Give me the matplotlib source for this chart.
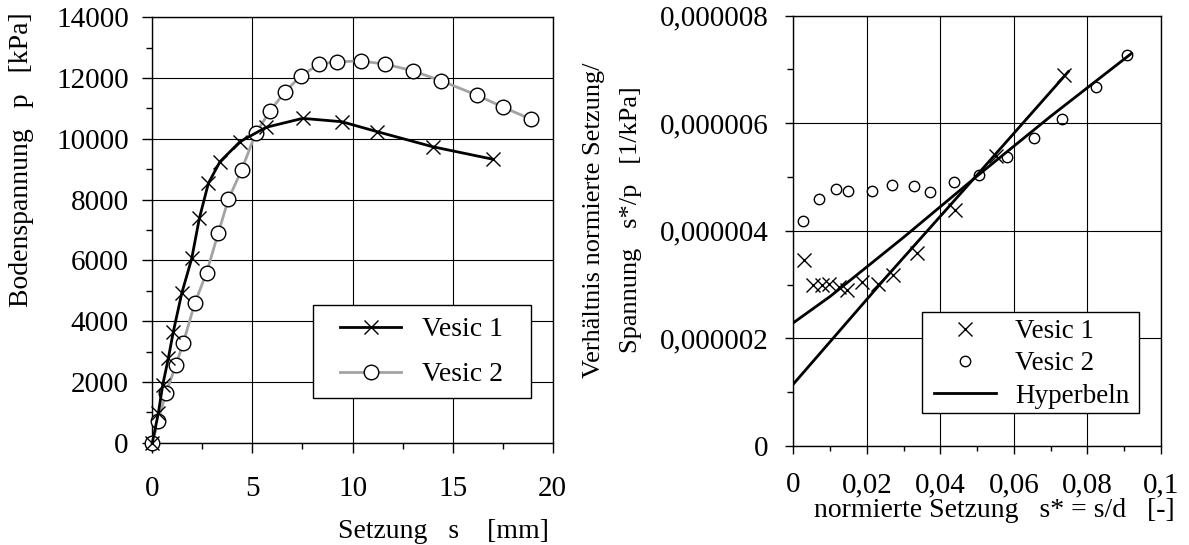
import matplotlib
matplotlib.use("Agg")
import matplotlib.pyplot as plt
from matplotlib.ticker import MultipleLocator, FuncFormatter
from matplotlib.patches import Rectangle

plt.rcParams['font.family'] = ['Liberation Serif', 'DejaVu Serif']
FT = 21      # tick labels
FL = 20      # axis labels
FG = 20      # legend

# ---- left chart data: soil pressure p [kPa] vs settlement s [mm]
v1_s = [0, 0.3, 0.52, 0.8, 1.05, 1.47, 1.97, 2.35, 2.8, 3.38, 4.38, 5.68, 7.51, 9.46, 11.24, 14.0, 17.04]
v1_p = [0, 965, 1898, 2775, 3653, 4915, 6066, 7383, 8535, 9248, 9906, 10378, 10674, 10564, 10235, 9741, 9325]
v2_s = [0, 0.3, 0.68, 1.18, 1.55, 2.13, 2.71, 3.30, 3.80, 4.46, 5.16, 5.88, 6.63, 7.41, 8.34, 9.24,
        10.41, 11.62, 13.0, 14.42, 16.2, 17.54, 18.9]
v2_p = [0, 724, 1646, 2556, 3291, 4607, 5595, 6911, 8008, 8974, 10180, 10915, 11551, 12067, 12462, 12539,
        12561, 12462, 12243, 11913, 11442, 11036, 10652]

# ---- right chart data: s*/p [1/kPa] vs s* [-]
r1_x = [0.0029, 0.0054, 0.0077, 0.0098, 0.0125, 0.0145, 0.0186, 0.0231, 0.0272, 0.0336, 0.0440, 0.0552, 0.0737]
r1_y = [3.46e-6, 2.99e-6, 2.99e-6, 3.01e-6, 2.95e-6, 2.90e-6, 3.05e-6, 3.02e-6, 3.18e-6, 3.59e-6, 4.39e-6, 5.40e-6, 6.89e-6]
r2_x = [0.0027, 0.0071, 0.0115, 0.0150, 0.0215, 0.0268, 0.0328, 0.0372, 0.0437, 0.0506, 0.0580, 0.0655,
        0.0730, 0.0823, 0.0907]
r2_y = [4.18e-6, 4.59e-6, 4.77e-6, 4.74e-6, 4.74e-6, 4.86e-6, 4.83e-6, 4.72e-6, 4.90e-6, 5.04e-6, 5.37e-6,
        5.72e-6, 6.08e-6, 6.68e-6, 7.27e-6]
h1_x = [0, 0.025, 0.05, 0.0748]
h1_y = [1.15e-6, 3.12e-6, 5.04e-6, 6.96e-6]
h2_x = [0, 0.01, 0.02, 0.03, 0.04, 0.05, 0.07, 0.092]
h2_y = [2.29e-6, 2.78e-6, 3.33e-6, 3.88e-6, 4.45e-6, 5.02e-6, 6.13e-6, 7.30e-6]

W, H = 1189, 545
fig = plt.figure(figsize=(W / 100, H / 100), dpi=100)

def px_axes(x0, y0, x1, y1):
    return fig.add_axes([x0 / W, 1 - y1 / H, (x1 - x0) / W, (y1 - y0) / H])

def legend_box(ax, x0, y0, w, h):
    ax.add_patch(Rectangle((x0, y0), w, h, transform=ax.transAxes, facecolor='white',
                           edgecolor='black', lw=1.0, zorder=4.9, clip_on=False))

# ================= left chart
ax1 = px_axes(152.3, 17.3, 552.7, 442.7)
ax1.plot(v1_s, v1_p, color='black', lw=2.0, marker='x', ms=10, mew=1.0, mec='black',
         label='Vesic 1', clip_on=False, zorder=4)
ax1.plot(v2_s, v2_p, color='#a3a3a3', lw=2.0, marker='o', ms=10.5, mew=1.0, mec='black',
         mfc='white', label='Vesic 2', clip_on=False, zorder=3)
ax1.set_xlim(0, 20)
ax1.set_ylim(0, 14000)
ax1.xaxis.set_major_locator(MultipleLocator(5))
ax1.xaxis.set_minor_locator(MultipleLocator(2.5))
ax1.yaxis.set_major_locator(MultipleLocator(2000))
ax1.yaxis.set_minor_locator(MultipleLocator(1000))
ax1.grid(True, which='major', color='black', lw=0.8)
ax1.set_axisbelow(True)
ax1.tick_params(axis='x', which='major', direction='out', length=7, width=1, pad=17, labelsize=FT)
ax1.tick_params(axis='x', which='minor', direction='out', length=4.5, width=1)
ax1.tick_params(axis='y', which='major', direction='out', length=7, width=1, pad=10, labelsize=FT)
ax1.tick_params(axis='y', which='minor', direction='out', length=4.5, width=1)
for sp in ax1.spines.values():
    sp.set_linewidth(1.0)
legend_box(ax1, 0.4006, 0.1044, 0.5444, 0.2193)
leg1 = ax1.legend(loc='center', bbox_to_anchor=(0.673, 0.213), fontsize=FG, frameon=False,
                  handlelength=2.2, handletextpad=0.75, labelspacing=0.7, borderpad=0, borderaxespad=0)
leg1.set_zorder(5)

fig.text(21.7 / W, 1 - 12 / H, 'Bodenspannung   p   [kPa]', rotation=90, ha='center', va='top', fontsize=FL)
fig.text(549 / W, 1 - 538 / H, 'Setzung   s    [mm]', ha='right', va='baseline', fontsize=FL)

# ================= right chart
ax2 = px_axes(793.3, 15.7, 1161, 446)
ax2.plot(r1_x, r1_y, ls='none', marker='x', ms=10, mew=1.0, color='black', label='Vesic 1', zorder=3)
ax2.plot(r2_x, r2_y, ls='none', marker='o', ms=7.5, mew=1.0, mec='black', mfc='none', label='Vesic 2', zorder=3)
ax2.plot(h1_x, h1_y, color='black', lw=2.0, label='Hyperbeln', zorder=4)
ax2.plot(h2_x, h2_y, color='black', lw=2.0, zorder=4)
ax2.set_xlim(0, 0.1)
ax2.set_ylim(0, 8e-6)
ax2.xaxis.set_major_locator(MultipleLocator(0.02))
ax2.xaxis.set_minor_locator(MultipleLocator(0.01))
ax2.yaxis.set_major_locator(MultipleLocator(2e-6))
ax2.yaxis.set_minor_locator(MultipleLocator(1e-6))

def fmt_x(v, pos):
    v = round(v, 6)
    return '0' if v == 0 else f'{v:g}'.replace('.', ',')

def fmt_y(v, pos):
    v = round(v, 9)
    return '0' if v == 0 else f'{v:.6f}'.replace('.', ',')

ax2.xaxis.set_major_formatter(FuncFormatter(fmt_x))
ax2.yaxis.set_major_formatter(FuncFormatter(fmt_y))
ax2.grid(True, which='major', color='black', lw=0.8)
ax2.set_axisbelow(True)
ax2.tick_params(axis='x', which='major', direction='out', length=6, width=1, pad=13, labelsize=FT)
ax2.tick_params(axis='x', which='minor', direction='out', length=3.5, width=1)
ax2.tick_params(axis='y', which='major', direction='out', length=6, width=1, pad=12, labelsize=FT)
ax2.tick_params(axis='y', which='minor', direction='out', length=4, width=1)
for sp in ax2.spines.values():
    sp.set_linewidth(1.0)
legend_box(ax2, 0.349, 0.0774, 0.592, 0.2333)
leg2 = ax2.legend(loc='center', bbox_to_anchor=(0.649, 0.1906), fontsize=19.5, frameon=False,
                  handlelength=2.3, handletextpad=0.7, labelspacing=0.27, borderpad=0, borderaxespad=0)
leg2.set_zorder(5)

fig.text(612.5 / W, 1 - 220 / H, 'Verhältnis normierte Setzung/\nSpannung   s*/p   [1/kPa]',
         rotation=90, ha='center', va='center', multialignment='center', fontsize=19, linespacing=1.9)
fig.text(1175 / W, 1 - 517 / H, 'normierte Setzung   s* = s/d   [-]', ha='right', va='baseline', fontsize=FL)

fig.savefig('out.png', dpi=100)
